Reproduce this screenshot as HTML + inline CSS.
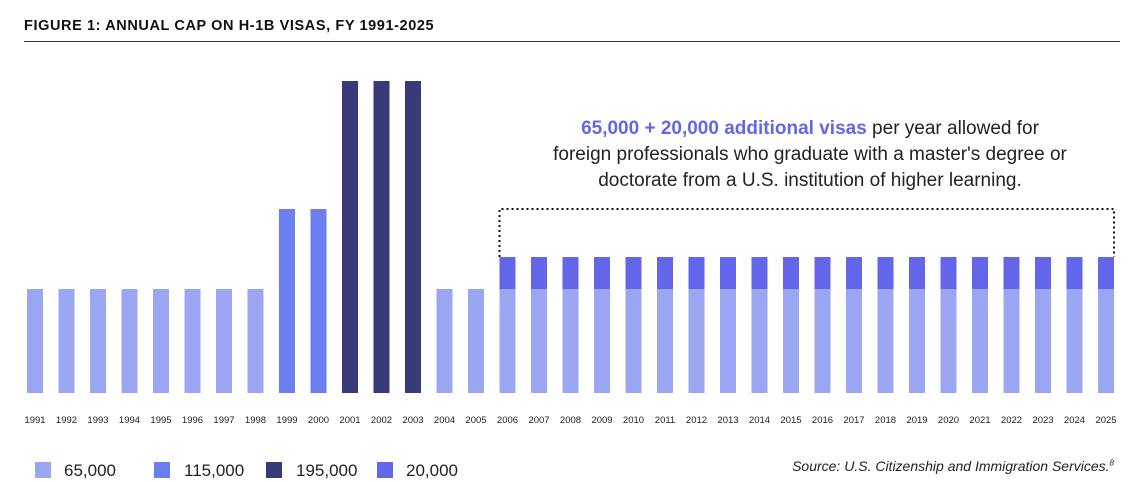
<!DOCTYPE html>
<html><head><meta charset="utf-8"><style>
body{margin:0;width:1142px;height:482px;background:#fff;font-family:"Liberation Sans",sans-serif;overflow:hidden;position:relative}
#title{position:absolute;left:24px;top:18px;font-size:14.5px;font-weight:bold;letter-spacing:0.6px;color:#111}
#rule{position:absolute;left:24px;top:41px;width:1096px;height:1px;background:#333}
#note{position:absolute;left:505px;top:116px;width:610px;text-align:center;font-size:19px;line-height:26px;color:#222}
#note b{color:#6366ea}
.leg{position:absolute;top:461px;font-size:17px;color:#222}
.sw{position:absolute;top:462px;width:16px;height:16px}
#src{position:absolute;right:28px;top:458px;font-size:14px;font-style:italic;color:#222}
</style></head><body>
<div id="title">FIGURE 1: ANNUAL CAP ON H-1B VISAS, FY 1991-2025</div>
<div id="rule"></div>
<div id="note"><b>65,000 + 20,000 additional visas</b> per year allowed for<br>foreign professionals who graduate with a master's degree or<br>doctorate from a U.S. institution of higher learning.</div>
<svg id="chart" width="1142" height="482" style="position:absolute;left:0;top:0"></svg>
<div class="sw" style="left:35px;background:#9ba6f2"></div>
<div class="leg" style="left:64px">65,000</div>
<div class="sw" style="left:154px;background:#6b7ff0"></div>
<div class="leg" style="left:184px">115,000</div>
<div class="sw" style="left:266px;background:#383a7a"></div>
<div class="leg" style="left:296px">195,000</div>
<div class="sw" style="left:377px;background:#6366ea"></div>
<div class="leg" style="left:406px">20,000</div>
<div id="src">Source: U.S. Citizenship and Immigration Services.<sup style="font-size:8px">8</sup></div>
<script>
const years=[1991,1992,1993,1994,1995,1996,1997,1998,1999,2000,2001,2002,2003,2004,2005,2006,2007,2008,2009,2010,2011,2012,2013,2014,2015,2016,2017,2018,2019,2020,2021,2022,2023,2024,2025];
const baseCap=[65000,65000,65000,65000,65000,65000,65000,65000,115000,115000,195000,195000,195000,65000,65000,65000,65000,65000,65000,65000,65000,65000,65000,65000,65000,65000,65000,65000,65000,65000,65000,65000,65000,65000,65000];
const additional=[0,0,0,0,0,0,0,0,0,0,0,0,0,0,0,20000,20000,20000,20000,20000,20000,20000,20000,20000,20000,20000,20000,20000,20000,20000,20000,20000,20000,20000,20000];
const svg=document.getElementById('chart');const NS='http://www.w3.org/2000/svg';
const base=393,k=1.6/1000;
const xc=i=>35+i*31.5;const yh=v=>v*k;
const col=v=>v===65000?'#9ba6f2':v===115000?'#6b7ff0':'#383a7a';
years.forEach((yr,i)=>{
 const h=yh(baseCap[i]);
 const r=document.createElementNS(NS,'rect');
 
 
 r.setAttribute('x',xc(i)-8);r.setAttribute('y',base-h);r.setAttribute('width',16);r.setAttribute('height',h);r.setAttribute('fill',col(baseCap[i]));svg.appendChild(r);
 if(additional[i]>0){const h2=yh(additional[i]);
  const r2=document.createElementNS(NS,'rect');
  
  
  r2.setAttribute('x',xc(i)-8);r2.setAttribute('y',base-h-h2);r2.setAttribute('width',16);r2.setAttribute('height',h2);r2.setAttribute('fill','#6366ea');svg.appendChild(r2);}
 const t=document.createElementNS(NS,'text');
 
 
 t.setAttribute('x',xc(i));t.setAttribute('y',423);t.setAttribute('text-anchor','middle');t.setAttribute('font-size','9.5');t.setAttribute('fill','#222');t.setAttribute('font-family','Liberation Sans');t.textContent=yr;svg.appendChild(t);
});
const i0=additional.findIndex(v=>v>0);
const barTop=base-yh(baseCap[i0]+additional[i0]);
const bracketTop=barTop-48;
const p=document.createElementNS(NS,'path');


p.setAttribute('d',`M${xc(i0)-8},${barTop} V${bracketTop} H${xc(years.length-1)+8} V${barTop}`);
p.setAttribute('fill','none');p.setAttribute('stroke','#111');p.setAttribute('stroke-width','2');p.setAttribute('stroke-dasharray','2 3');svg.appendChild(p);
</script>
</body></html>
